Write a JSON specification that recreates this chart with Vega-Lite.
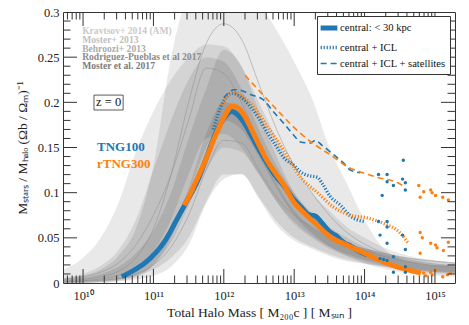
{
"$schema": "https://vega.github.io/schema/vega-lite/v6.json",
"width": 392, "height": 271,
"autosize": {"type": "none"},
"padding": {"left": 63, "top": 12, "right": 14, "bottom": 42},
"background": "white",
"config": {"view": {"stroke": "#333", "strokeWidth": 1}, "font": "Liberation Serif",
  "axis": {"grid": false, "ticks": false, "domain": false, "labelFont": "Liberation Serif", "labelFontSize": 12.5, "labelColor": "#222", "titleFont": "Liberation Serif", "titleFontSize": 13.5, "titleFontWeight": "normal", "titleColor": "#222", "labelOverlap": false, "labelBound": false, "labelFlush": false}},
"datasets": {
"xt": [{"t":6e9},{"t":7e9},{"t":8e9},{"t":9e9},{"t":1e10},{"t":2e10},{"t":3e10},{"t":4e10},{"t":5e10},{"t":6e10},{"t":7e10},{"t":8e10},{"t":9e10},{"t":1e11},{"t":2e11},{"t":3e11},{"t":4e11},{"t":5e11},{"t":6e11},{"t":7e11},{"t":8e11},{"t":9e11},{"t":1e12},{"t":2e12},{"t":3e12},{"t":4e12},{"t":5e12},{"t":6e12},{"t":7e12},{"t":8e12},{"t":9e12},{"t":1e13},{"t":2e13},{"t":3e13},{"t":4e13},{"t":5e13},{"t":6e13},{"t":7e13},{"t":8e13},{"t":9e13},{"t":1e14},{"t":2e14},{"t":3e14},{"t":4e14},{"t":5e14},{"t":6e14},{"t":7e14},{"t":8e14},{"t":9e14},{"t":1e15}],
"yt": [{"t":0.01},{"t":0.02},{"t":0.03},{"t":0.04},{"t":0.05},{"t":0.06},{"t":0.07},{"t":0.08},{"t":0.09},{"t":0.1},{"t":0.11},{"t":0.12},{"t":0.13},{"t":0.14},{"t":0.15},{"t":0.16},{"t":0.17},{"t":0.18},{"t":0.19},{"t":0.2},{"t":0.21},{"t":0.22},{"t":0.23},{"t":0.24},{"t":0.25},{"t":0.26},{"t":0.27},{"t":0.28},{"t":0.29}],
"bands": [
{"model":"K","m":5e9,"lo":0,"hi":0.005},{"model":"K","m":1e10,"lo":0,"hi":0.008},{"model":"K","m":1.78e10,"lo":0,"hi":0.015},{"model":"K","m":3.16e10,"lo":0.002,"hi":0.03},{"model":"K","m":5.62e10,"lo":0.006,"hi":0.06},{"model":"K","m":1e11,"lo":0.02,"hi":0.13},{"model":"K","m":1.78e11,"lo":0.05,"hi":0.25},{"model":"K","m":3.16e11,"lo":0.1,"hi":0.32},{"model":"K","m":5.62e11,"lo":0.15,"hi":0.34},{"model":"K","m":1e12,"lo":0.18,"hi":0.35},{"model":"K","m":1.78e12,"lo":0.17,"hi":0.34},{"model":"K","m":3.16e12,"lo":0.14,"hi":0.31},{"model":"K","m":5.62e12,"lo":0.105,"hi":0.28},{"model":"K","m":1e13,"lo":0.075,"hi":0.245},{"model":"K","m":1.78e13,"lo":0.055,"hi":0.205},{"model":"K","m":3.16e13,"lo":0.04,"hi":0.15},{"model":"K","m":5.62e13,"lo":0.03,"hi":0.11},{"model":"K","m":1e14,"lo":0.022,"hi":0.07},{"model":"K","m":1.78e14,"lo":0.016,"hi":0.04},{"model":"K","m":3.16e14,"lo":0.012,"hi":0.027},{"model":"K","m":5.62e14,"lo":0.01,"hi":0.022},{"model":"K","m":1e15,"lo":0.008,"hi":0.02},{"model":"K","m":2e15,"lo":0.007,"hi":0.02},
{"model":"M13","m":5e9,"lo":0,"hi":0.014},{"model":"M13","m":1e10,"lo":0,"hi":0.028},{"model":"M13","m":1.78e10,"lo":0.001,"hi":0.05},{"model":"M13","m":3.16e10,"lo":0.003,"hi":0.088},{"model":"M13","m":5.62e10,"lo":0.008,"hi":0.145},{"model":"M13","m":1e11,"lo":0.02,"hi":0.19},{"model":"M13","m":1.78e11,"lo":0.045,"hi":0.225},{"model":"M13","m":3.16e11,"lo":0.085,"hi":0.25},{"model":"M13","m":5.62e11,"lo":0.125,"hi":0.264},{"model":"M13","m":1e12,"lo":0.15,"hi":0.262},{"model":"M13","m":1.78e12,"lo":0.145,"hi":0.24},{"model":"M13","m":3.16e12,"lo":0.12,"hi":0.2},{"model":"M13","m":5.62e12,"lo":0.09,"hi":0.16},{"model":"M13","m":1e13,"lo":0.065,"hi":0.125},{"model":"M13","m":1.78e13,"lo":0.05,"hi":0.1},{"model":"M13","m":3.16e13,"lo":0.038,"hi":0.08},{"model":"M13","m":5.62e13,"lo":0.03,"hi":0.062},{"model":"M13","m":1e14,"lo":0.024,"hi":0.05},{"model":"M13","m":1.78e14,"lo":0.019,"hi":0.04},{"model":"M13","m":3.16e14,"lo":0.015,"hi":0.033},{"model":"M13","m":5.62e14,"lo":0.012,"hi":0.028},{"model":"M13","m":1e15,"lo":0.01,"hi":0.025},{"model":"M13","m":2e15,"lo":0.009,"hi":0.022},
{"model":"B13","m":5e9,"lo":0.001,"hi":0.006},{"model":"B13","m":1e10,"lo":0.002,"hi":0.01},{"model":"B13","m":1.78e10,"lo":0.004,"hi":0.019},{"model":"B13","m":3.16e10,"lo":0.008,"hi":0.036},{"model":"B13","m":5.62e10,"lo":0.017,"hi":0.07},{"model":"B13","m":1e11,"lo":0.035,"hi":0.125},{"model":"B13","m":1.78e11,"lo":0.07,"hi":0.18},{"model":"B13","m":3.16e11,"lo":0.12,"hi":0.225},{"model":"B13","m":5.62e11,"lo":0.16,"hi":0.25},{"model":"B13","m":1e12,"lo":0.165,"hi":0.245},{"model":"B13","m":1.78e12,"lo":0.15,"hi":0.215},{"model":"B13","m":3.16e12,"lo":0.12,"hi":0.17},{"model":"B13","m":5.62e12,"lo":0.09,"hi":0.13},{"model":"B13","m":1e13,"lo":0.068,"hi":0.1},{"model":"B13","m":1.78e13,"lo":0.052,"hi":0.078},{"model":"B13","m":3.16e13,"lo":0.04,"hi":0.062},{"model":"B13","m":5.62e13,"lo":0.032,"hi":0.05},{"model":"B13","m":1e14,"lo":0.026,"hi":0.04},{"model":"B13","m":1.78e14,"lo":0.022,"hi":0.033},{"model":"B13","m":3.16e14,"lo":0.018,"hi":0.028},{"model":"B13","m":5.62e14,"lo":0.015,"hi":0.024},{"model":"B13","m":1e15,"lo":0.013,"hi":0.021},{"model":"B13","m":2e15,"lo":0.012,"hi":0.019},
{"model":"RP","m":5e9,"lo":0,"hi":0.004},{"model":"RP","m":1e10,"lo":0.001,"hi":0.006},{"model":"RP","m":1.78e10,"lo":0.002,"hi":0.01},{"model":"RP","m":3.16e10,"lo":0.004,"hi":0.018},{"model":"RP","m":5.62e10,"lo":0.008,"hi":0.033},{"model":"RP","m":1e11,"lo":0.015,"hi":0.058},{"model":"RP","m":1.78e11,"lo":0.028,"hi":0.1},{"model":"RP","m":3.16e11,"lo":0.05,"hi":0.16},{"model":"RP","m":5.62e11,"lo":0.09,"hi":0.215},{"model":"RP","m":1e12,"lo":0.12,"hi":0.258},{"model":"RP","m":1.78e12,"lo":0.12,"hi":0.24},{"model":"RP","m":3.16e12,"lo":0.095,"hi":0.19},{"model":"RP","m":5.62e12,"lo":0.068,"hi":0.14},{"model":"RP","m":1e13,"lo":0.05,"hi":0.1},{"model":"RP","m":1.78e13,"lo":0.04,"hi":0.075},{"model":"RP","m":3.16e13,"lo":0.032,"hi":0.058},{"model":"RP","m":5.62e13,"lo":0.026,"hi":0.046},{"model":"RP","m":1e14,"lo":0.022,"hi":0.038},{"model":"RP","m":1.78e14,"lo":0.019,"hi":0.032},{"model":"RP","m":3.16e14,"lo":0.016,"hi":0.027},{"model":"RP","m":5.62e14,"lo":0.014,"hi":0.023},{"model":"RP","m":1e15,"lo":0.012,"hi":0.02},{"model":"RP","m":2e15,"lo":0.011,"hi":0.018},
{"model":"M17","m":5e9,"lo":0,"hi":0.002},{"model":"M17","m":1e10,"lo":0,"hi":0.003},{"model":"M17","m":1.78e10,"lo":0.001,"hi":0.005},{"model":"M17","m":3.16e10,"lo":0.002,"hi":0.009},{"model":"M17","m":5.62e10,"lo":0.004,"hi":0.017},{"model":"M17","m":1e11,"lo":0.008,"hi":0.032},{"model":"M17","m":1.78e11,"lo":0.018,"hi":0.06},{"model":"M17","m":3.16e11,"lo":0.042,"hi":0.105},{"model":"M17","m":5.62e11,"lo":0.088,"hi":0.165},{"model":"M17","m":1e12,"lo":0.115,"hi":0.2},{"model":"M17","m":1.78e12,"lo":0.121,"hi":0.19},{"model":"M17","m":3.16e12,"lo":0.093,"hi":0.15},{"model":"M17","m":5.62e12,"lo":0.064,"hi":0.11},{"model":"M17","m":1e13,"lo":0.047,"hi":0.08},{"model":"M17","m":1.78e13,"lo":0.038,"hi":0.062},{"model":"M17","m":3.16e13,"lo":0.03,"hi":0.05},{"model":"M17","m":5.62e13,"lo":0.024,"hi":0.043},{"model":"M17","m":1e14,"lo":0.021,"hi":0.038},{"model":"M17","m":1.78e14,"lo":0.018,"hi":0.034},{"model":"M17","m":3.16e14,"lo":0.015,"hi":0.03},{"model":"M17","m":5.62e14,"lo":0.013,"hi":0.027},{"model":"M17","m":1e15,"lo":0.012,"hi":0.025},{"model":"M17","m":2e15,"lo":0.011,"hi":0.023}
],
"thin": [
{"model":"Kc","m":5e9,"v":0.002},{"model":"Kc","m":1e10,"v":0.004},{"model":"Kc","m":1.78e10,"v":0.007},{"model":"Kc","m":3.16e10,"v":0.013},{"model":"Kc","m":5.62e10,"v":0.028},{"model":"Kc","m":1e11,"v":0.06},{"model":"Kc","m":1.78e11,"v":0.12},{"model":"Kc","m":3.16e11,"v":0.2},{"model":"Kc","m":5.62e11,"v":0.265},{"model":"Kc","m":1e12,"v":0.287},{"model":"Kc","m":1.78e12,"v":0.27},{"model":"Kc","m":3.16e12,"v":0.22},{"model":"Kc","m":5.62e12,"v":0.17},{"model":"Kc","m":1e13,"v":0.13},{"model":"Kc","m":1.78e13,"v":0.1},{"model":"Kc","m":3.16e13,"v":0.075},{"model":"Kc","m":5.62e13,"v":0.056},{"model":"Kc","m":1e14,"v":0.043},{"model":"Kc","m":1.78e14,"v":0.034},{"model":"Kc","m":3.16e14,"v":0.028},{"model":"Kc","m":5.62e14,"v":0.024},{"model":"Kc","m":1e15,"v":0.021},{"model":"Kc","m":2e15,"v":0.019},
{"model":"Bc","m":5e9,"v":0.004},{"model":"Bc","m":1e10,"v":0.007},{"model":"Bc","m":1.78e10,"v":0.012},{"model":"Bc","m":3.16e10,"v":0.022},{"model":"Bc","m":5.62e10,"v":0.042},{"model":"Bc","m":1e11,"v":0.075},{"model":"Bc","m":1.78e11,"v":0.12},{"model":"Bc","m":3.16e11,"v":0.18},{"model":"Bc","m":5.62e11,"v":0.238},{"model":"Bc","m":1e12,"v":0.232},{"model":"Bc","m":1.78e12,"v":0.2},{"model":"Bc","m":3.16e12,"v":0.158},{"model":"Bc","m":5.62e12,"v":0.12},{"model":"Bc","m":1e13,"v":0.09},{"model":"Bc","m":1.78e13,"v":0.07},{"model":"Bc","m":3.16e13,"v":0.055},{"model":"Bc","m":5.62e13,"v":0.044},{"model":"Bc","m":1e14,"v":0.036},{"model":"Bc","m":1.78e14,"v":0.03},{"model":"Bc","m":3.16e14,"v":0.025},{"model":"Bc","m":5.62e14,"v":0.022},{"model":"Bc","m":1e15,"v":0.019},{"model":"Bc","m":2e15,"v":0.017},
{"model":"Mc","m":5e9,"v":0.001},{"model":"Mc","m":1e10,"v":0.002},{"model":"Mc","m":1.78e10,"v":0.003},{"model":"Mc","m":3.16e10,"v":0.005},{"model":"Mc","m":5.62e10,"v":0.01},{"model":"Mc","m":1e11,"v":0.02},{"model":"Mc","m":1.78e11,"v":0.04},{"model":"Mc","m":3.16e11,"v":0.075},{"model":"Mc","m":5.62e11,"v":0.125},{"model":"Mc","m":1e12,"v":0.158},{"model":"Mc","m":1.78e12,"v":0.155},{"model":"Mc","m":3.16e12,"v":0.125},{"model":"Mc","m":5.62e12,"v":0.095},{"model":"Mc","m":1e13,"v":0.075},{"model":"Mc","m":1.78e13,"v":0.062},{"model":"Mc","m":3.16e13,"v":0.05},{"model":"Mc","m":5.62e13,"v":0.043},{"model":"Mc","m":1e14,"v":0.038},{"model":"Mc","m":1.78e14,"v":0.033},{"model":"Mc","m":3.16e14,"v":0.029},{"model":"Mc","m":5.62e14,"v":0.026},{"model":"Mc","m":1e15,"v":0.024},{"model":"Mc","m":2e15,"v":0.022}
],
"sim": [
{"sim":"TNG100","type":"central: < 30 kpc","m":3.55e10,"v":0.007},{"sim":"TNG100","type":"central: < 30 kpc","m":5.25e10,"v":0.014},{"sim":"TNG100","type":"central: < 30 kpc","m":8.91e10,"v":0.027},{"sim":"TNG100","type":"central: < 30 kpc","m":1.55e11,"v":0.05},{"sim":"TNG100","type":"central: < 30 kpc","m":2.14e11,"v":0.07},{"sim":"TNG100","type":"central: < 30 kpc","m":2.95e11,"v":0.09},{"sim":"TNG100","type":"central: < 30 kpc","m":4.17e11,"v":0.112},{"sim":"TNG100","type":"central: < 30 kpc","m":5.75e11,"v":0.14},{"sim":"TNG100","type":"central: < 30 kpc","m":7.59e11,"v":0.165},{"sim":"TNG100","type":"central: < 30 kpc","m":1e12,"v":0.182},{"sim":"TNG100","type":"central: < 30 kpc","m":1.29e12,"v":0.19},{"sim":"TNG100","type":"central: < 30 kpc","m":1.58e12,"v":0.186},{"sim":"TNG100","type":"central: < 30 kpc","m":2e12,"v":0.176},{"sim":"TNG100","type":"central: < 30 kpc","m":2.51e12,"v":0.162},{"sim":"TNG100","type":"central: < 30 kpc","m":3.16e12,"v":0.148},{"sim":"TNG100","type":"central: < 30 kpc","m":4.17e12,"v":0.132},{"sim":"TNG100","type":"central: < 30 kpc","m":5.62e12,"v":0.117},{"sim":"TNG100","type":"central: < 30 kpc","m":7.08e12,"v":0.108},{"sim":"TNG100","type":"central: < 30 kpc","m":1e13,"v":0.092},{"sim":"TNG100","type":"central: < 30 kpc","m":1.26e13,"v":0.084},{"sim":"TNG100","type":"central: < 30 kpc","m":1.58e13,"v":0.076},{"sim":"TNG100","type":"central: < 30 kpc","m":2e13,"v":0.074},{"sim":"TNG100","type":"central: < 30 kpc","m":2.51e13,"v":0.066},{"sim":"TNG100","type":"central: < 30 kpc","m":3.16e13,"v":0.057},{"sim":"TNG100","type":"central: < 30 kpc","m":3.98e13,"v":0.052},{"sim":"TNG100","type":"central: < 30 kpc","m":5.01e13,"v":0.045},{"sim":"TNG100","type":"central: < 30 kpc","m":6.31e13,"v":0.041},{"sim":"TNG100","type":"central: < 30 kpc","m":7.94e13,"v":0.036},{"sim":"TNG100","type":"central: < 30 kpc","m":1.1e14,"v":0.031},
{"sim":"TNG100","type":"central + ICL","m":7.08e11,"v":0.17},{"sim":"TNG100","type":"central + ICL","m":9.55e11,"v":0.199},{"sim":"TNG100","type":"central + ICL","m":1.32e12,"v":0.21},{"sim":"TNG100","type":"central + ICL","m":1.58e12,"v":0.208},{"sim":"TNG100","type":"central + ICL","m":2.4e12,"v":0.195},{"sim":"TNG100","type":"central + ICL","m":3.16e12,"v":0.182},{"sim":"TNG100","type":"central + ICL","m":4.17e12,"v":0.166},{"sim":"TNG100","type":"central + ICL","m":5.62e12,"v":0.151},{"sim":"TNG100","type":"central + ICL","m":7.08e12,"v":0.139},{"sim":"TNG100","type":"central + ICL","m":1e13,"v":0.13},{"sim":"TNG100","type":"central + ICL","m":1.23e13,"v":0.123},{"sim":"TNG100","type":"central + ICL","m":1.58e13,"v":0.119},{"sim":"TNG100","type":"central + ICL","m":2.14e13,"v":0.117},{"sim":"TNG100","type":"central + ICL","m":2.51e13,"v":0.11},{"sim":"TNG100","type":"central + ICL","m":3.24e13,"v":0.096},{"sim":"TNG100","type":"central + ICL","m":4.57e13,"v":0.086},{"sim":"TNG100","type":"central + ICL","m":6.31e13,"v":0.074},{"sim":"TNG100","type":"central + ICL","m":1e14,"v":0.068},
{"sim":"TNG100","type":"central + ICL + satellites","m":1e12,"v":0.205},{"sim":"TNG100","type":"central + ICL + satellites","m":1.41e12,"v":0.214},{"sim":"TNG100","type":"central + ICL + satellites","m":1.78e12,"v":0.213},{"sim":"TNG100","type":"central + ICL + satellites","m":2.51e12,"v":0.208},{"sim":"TNG100","type":"central + ICL + satellites","m":3.63e12,"v":0.203},{"sim":"TNG100","type":"central + ICL + satellites","m":5.01e12,"v":0.19},{"sim":"TNG100","type":"central + ICL + satellites","m":7.08e12,"v":0.177},{"sim":"TNG100","type":"central + ICL + satellites","m":1e13,"v":0.163},{"sim":"TNG100","type":"central + ICL + satellites","m":1.23e13,"v":0.156},{"sim":"TNG100","type":"central + ICL + satellites","m":1.7e13,"v":0.155},{"sim":"TNG100","type":"central + ICL + satellites","m":2e13,"v":0.158},{"sim":"TNG100","type":"central + ICL + satellites","m":2.51e13,"v":0.152},{"sim":"TNG100","type":"central + ICL + satellites","m":2.95e13,"v":0.148},{"sim":"TNG100","type":"central + ICL + satellites","m":3.63e13,"v":0.142},{"sim":"TNG100","type":"central + ICL + satellites","m":5.01e13,"v":0.133},{"sim":"TNG100","type":"central + ICL + satellites","m":6.31e13,"v":0.125},{"sim":"TNG100","type":"central + ICL + satellites","m":8.71e13,"v":0.122},
{"sim":"rTNG300","type":"central: < 30 kpc","m":2.75e11,"v":0.086},{"sim":"rTNG300","type":"central: < 30 kpc","m":3.16e11,"v":0.095},{"sim":"rTNG300","type":"central: < 30 kpc","m":4.17e11,"v":0.115},{"sim":"rTNG300","type":"central: < 30 kpc","m":5.62e11,"v":0.138},{"sim":"rTNG300","type":"central: < 30 kpc","m":7.59e11,"v":0.163},{"sim":"rTNG300","type":"central: < 30 kpc","m":1e12,"v":0.183},{"sim":"rTNG300","type":"central: < 30 kpc","m":1.32e12,"v":0.196},{"sim":"rTNG300","type":"central: < 30 kpc","m":1.58e12,"v":0.194},{"sim":"rTNG300","type":"central: < 30 kpc","m":2e12,"v":0.184},{"sim":"rTNG300","type":"central: < 30 kpc","m":2.51e12,"v":0.169},{"sim":"rTNG300","type":"central: < 30 kpc","m":3.16e12,"v":0.153},{"sim":"rTNG300","type":"central: < 30 kpc","m":4.17e12,"v":0.135},{"sim":"rTNG300","type":"central: < 30 kpc","m":5.62e12,"v":0.12},{"sim":"rTNG300","type":"central: < 30 kpc","m":7.08e12,"v":0.109},{"sim":"rTNG300","type":"central: < 30 kpc","m":1e13,"v":0.089},{"sim":"rTNG300","type":"central: < 30 kpc","m":1.41e13,"v":0.077},{"sim":"rTNG300","type":"central: < 30 kpc","m":2e13,"v":0.066},{"sim":"rTNG300","type":"central: < 30 kpc","m":3.16e13,"v":0.052},{"sim":"rTNG300","type":"central: < 30 kpc","m":5.62e13,"v":0.042},{"sim":"rTNG300","type":"central: < 30 kpc","m":1e14,"v":0.033},{"sim":"rTNG300","type":"central: < 30 kpc","m":1.78e14,"v":0.024},{"sim":"rTNG300","type":"central: < 30 kpc","m":3.16e14,"v":0.017},{"sim":"rTNG300","type":"central: < 30 kpc","m":5.62e14,"v":0.012},{"sim":"rTNG300","type":"central: < 30 kpc","m":6.31e14,"v":0.011},
{"sim":"rTNG300","type":"central + ICL","m":9.55e11,"v":0.197},{"sim":"rTNG300","type":"central + ICL","m":1.15e12,"v":0.207},{"sim":"rTNG300","type":"central + ICL","m":1.35e12,"v":0.211},{"sim":"rTNG300","type":"central + ICL","m":1.78e12,"v":0.207},{"sim":"rTNG300","type":"central + ICL","m":2.4e12,"v":0.199},{"sim":"rTNG300","type":"central + ICL","m":3.16e12,"v":0.187},{"sim":"rTNG300","type":"central + ICL","m":4.17e12,"v":0.173},{"sim":"rTNG300","type":"central + ICL","m":7.08e12,"v":0.147},{"sim":"rTNG300","type":"central + ICL","m":1.23e13,"v":0.117},{"sim":"rTNG300","type":"central + ICL","m":2.14e13,"v":0.1},{"sim":"rTNG300","type":"central + ICL","m":3.63e13,"v":0.084},{"sim":"rTNG300","type":"central + ICL","m":6.31e13,"v":0.075},{"sim":"rTNG300","type":"central + ICL","m":1.1e14,"v":0.072},{"sim":"rTNG300","type":"central + ICL","m":1.86e14,"v":0.066},{"sim":"rTNG300","type":"central + ICL","m":3.24e14,"v":0.055},{"sim":"rTNG300","type":"central + ICL","m":4.17e14,"v":0.044},
{"sim":"rTNG300","type":"central + ICL + satellites","m":2e12,"v":0.23},{"sim":"rTNG300","type":"central + ICL + satellites","m":3.63e12,"v":0.208},{"sim":"rTNG300","type":"central + ICL + satellites","m":6.31e12,"v":0.188},{"sim":"rTNG300","type":"central + ICL + satellites","m":1.1e13,"v":0.169},{"sim":"rTNG300","type":"central + ICL + satellites","m":1.82e13,"v":0.155},{"sim":"rTNG300","type":"central + ICL + satellites","m":3.24e13,"v":0.142},{"sim":"rTNG300","type":"central + ICL + satellites","m":6.31e13,"v":0.127},{"sim":"rTNG300","type":"central + ICL + satellites","m":9.55e13,"v":0.122},{"sim":"rTNG300","type":"central + ICL + satellites","m":1.51e14,"v":0.117},{"sim":"rTNG300","type":"central + ICL + satellites","m":2.95e14,"v":0.111},{"sim":"rTNG300","type":"central + ICL + satellites","m":3.47e14,"v":0.108}
],
"pts": [
{"sim":"TNG100","m":3.55e14,"v":0.136},{"sim":"TNG100","m":1.58e14,"v":0.12},{"sim":"TNG100","m":2.09e14,"v":0.12},{"sim":"TNG100","m":2.09e14,"v":0.112},{"sim":"TNG100","m":1.78e14,"v":0.097},{"sim":"TNG100","m":2.57e14,"v":0.108},{"sim":"TNG100","m":3.47e14,"v":0.115},{"sim":"TNG100","m":3.8e14,"v":0.111},{"sim":"TNG100","m":3.8e14,"v":0.103},{"sim":"TNG100","m":1.58e14,"v":0.068},{"sim":"TNG100","m":2.09e14,"v":0.068},{"sim":"TNG100","m":2.09e14,"v":0.062},{"sim":"TNG100","m":1.66e14,"v":0.053},{"sim":"TNG100","m":2.09e14,"v":0.044},{"sim":"TNG100","m":3.47e14,"v":0.053},{"sim":"TNG100","m":3.8e14,"v":0.037},{"sim":"TNG100","m":2.57e14,"v":0.029},{"sim":"TNG100","m":1.66e14,"v":0.027},{"sim":"TNG100","m":1.86e14,"v":0.026},{"sim":"TNG100","m":2.09e14,"v":0.025},{"sim":"TNG100","m":2.57e14,"v":0.012},{"sim":"TNG100","m":3.8e14,"v":0.012},{"sim":"TNG100","m":3.8e14,"v":0.018},
{"sim":"rTNG300","m":5.89e14,"v":0.108},{"sim":"rTNG300","m":6.92e14,"v":0.101},{"sim":"rTNG300","m":6.17e14,"v":0.095},{"sim":"rTNG300","m":8.71e14,"v":0.103},{"sim":"rTNG300","m":9.12e14,"v":0.1},{"sim":"rTNG300","m":1.02e15,"v":0.097},{"sim":"rTNG300","m":1.29e15,"v":0.095},{"sim":"rTNG300","m":1.55e15,"v":0.092},{"sim":"rTNG300","m":6.17e14,"v":0.056},{"sim":"rTNG300","m":6.61e14,"v":0.05},{"sim":"rTNG300","m":6.17e14,"v":0.033},{"sim":"rTNG300","m":8.71e14,"v":0.044},{"sim":"rTNG300","m":1.02e15,"v":0.042},{"sim":"rTNG300","m":1.07e15,"v":0.039},{"sim":"rTNG300","m":1.55e15,"v":0.045},{"sim":"rTNG300","m":1.32e15,"v":0.036},{"sim":"rTNG300","m":5.89e14,"v":0.012},{"sim":"rTNG300","m":6.92e14,"v":0.011},{"sim":"rTNG300","m":8.71e14,"v":0.012},{"sim":"rTNG300","m":1.02e15,"v":0.014},{"sim":"rTNG300","m":9.12e14,"v":0.009},{"sim":"rTNG300","m":1.29e15,"v":0.007},{"sim":"rTNG300","m":1.51e15,"v":0.009},{"sim":"rTNG300","m":1.66e15,"v":0.011},{"sim":"rTNG300","m":7.41e14,"v":0.008}
],
"lit": [
{"label":"Kravtsov+ 2014 (AM)","m":9.7e9,"v":0.2795},
{"label":"Moster+ 2013","m":9.7e9,"v":0.2695},
{"label":"Behroozi+ 2013","m":9.7e9,"v":0.2595},
{"label":"Rodriguez-Pueblas et al 2017","m":9.7e9,"v":0.2497},
{"label":"Moster et al. 2017","m":9.7e9,"v":0.2397}
],
"tng": [
{"sim":"TNG100","m":1.58e10,"v":0.1505},
{"sim":"rTNG300","m":1.58e10,"v":0.132}
],
"zbox": [
{"label":"z = 0","m":1.43e10,"m2":3.71e10,"v":0.1915,"v2":0.208,"mc":2.31e10,"vc":0.2}
]
},
"layer": [
{"data": {"name": "bands"},
 "mark": {"type": "area", "clip": true, "interpolate": "monotone", "fill": "#000000"},
 "encoding": {
  "x": {"field": "m", "type": "quantitative", "scale": {"type": "log", "domain": [5.188e9, 1.928e15], "nice": false},
   "axis": {"orient": "bottom", "title": "Total Halo Mass [ M₂₀₀c ] [ Mₛᵤₙ ]", "titlePadding": 4,
    "values": [1e10,1e11,1e12,1e13,1e14,1e15],
    "labelExpr": "['10¹⁰','10¹¹','10¹²','10¹³','10¹⁴','10¹⁵'][round(log(datum.value)/LN10) - 10]",
    "labelFont": "Liberation Serif", "labelPadding": 6}},
  "y": {"field": "hi", "type": "quantitative", "stack": null, "scale": {"domain": [0, 0.3], "nice": false, "zero": false},
   "axis": {"orient": "left", "title": "Mₛₜₐᵣₛ / Mₕₐₗₒ (Ωb / Ωₘ)⁻¹", "titlePadding": 8, "format": "~g",
    "values": [0,0.05,0.1,0.15,0.2,0.25,0.3],
    "labelFont": "Liberation Serif", "labelPadding": 4}},
  "y2": {"field": "lo"},
  "detail": {"field": "model"},
  "fillOpacity": {"field": "model", "type": "nominal", "scale": {"domain": ["K","M13","B13","RP","M17"], "range": [0.085,0.095,0.095,0.13,0.18]}, "legend": null}
 }},
{"data": {"name": "thin"},
 "mark": {"type": "line", "clip": true, "interpolate": "monotone", "stroke": "#8c8c8c", "strokeWidth": 0.7, "opacity": 0.7},
 "encoding": {
  "x": {"field": "m", "type": "quantitative", "axis": null},
  "y": {"field": "v", "type": "quantitative", "axis": null},
  "detail": {"field": "model"}
 }},
{"data": {"name": "sim"},
 "mark": {"type": "line", "clip": true, "interpolate": "monotone"},
 "encoding": {
  "x": {"field": "m", "type": "quantitative", "axis": null},
  "y": {"field": "v", "type": "quantitative", "axis": null},
  "color": {"field": "sim", "type": "nominal", "scale": {"domain": ["TNG100","rTNG300"], "range": ["#1f77b4","#ff7f0e"]}, "legend": null},
  "strokeDash": {"field": "type", "type": "nominal", "scale": {"domain": ["central: < 30 kpc","central + ICL","central + ICL + satellites"], "range": [[1,0],[1.2,1.8],[6,4]]},
   "legend": {"title": null, "orient": "none", "legendX": 254, "legendY": 4, "symbolStrokeColor": "#1f77b4", "symbolType": "M-1.6,0H1.6", "symbolSize": 110, "labelFont": "Liberation Serif", "labelFontSize": 10.6, "labelColor": "#111", "strokeColor": "#333", "fillColor": "white", "padding": 4, "rowPadding": 2.5, "labelOffset": 3, "cornerRadius": 0}},
  "strokeWidth": {"field": "type", "type": "nominal", "scale": {"domain": ["central: < 30 kpc","central + ICL","central + ICL + satellites"], "range": [5, 1.6, 2.2]},
   "legend": {"title": null, "orient": "none", "legendX": 254, "legendY": 4, "symbolStrokeColor": "#1f77b4", "symbolType": "M-1.6,0H1.6", "symbolSize": 110, "labelFont": "Liberation Serif", "labelFontSize": 10.6, "labelColor": "#111", "strokeColor": "#333", "fillColor": "white", "padding": 4, "rowPadding": 2.5, "labelOffset": 3, "cornerRadius": 0}}
 }},
{"data": {"name": "pts"},
 "mark": {"type": "point", "filled": true, "size": 12, "opacity": 1, "clip": true},
 "encoding": {
  "x": {"field": "m", "type": "quantitative", "axis": null},
  "y": {"field": "v", "type": "quantitative", "axis": null},
  "color": {"field": "sim", "type": "nominal", "legend": null}
 }},
{"data": {"name": "xt"},
 "mark": {"type": "tick", "orient": "vertical", "clip": true, "thickness": 1, "color": "#333", "opacity": 1},
 "encoding": {
  "x": {"field": "t", "type": "quantitative", "axis": null},
  "y": {"datum": 0, "type": "quantitative", "axis": null},
  "size": {"condition": {"test": "abs(log(datum.t)/LN10 - round(log(datum.t)/LN10)) < 0.001", "value": 28}, "value": 15}
 }},
{"data": {"name": "xt"},
 "mark": {"type": "tick", "orient": "vertical", "clip": true, "thickness": 1, "color": "#333", "opacity": 1},
 "encoding": {
  "x": {"field": "t", "type": "quantitative", "axis": null},
  "y": {"datum": 0.3, "type": "quantitative", "axis": null},
  "size": {"condition": {"test": "abs(log(datum.t)/LN10 - round(log(datum.t)/LN10)) < 0.001", "value": 28}, "value": 15}
 }},
{"data": {"name": "yt"},
 "mark": {"type": "tick", "orient": "horizontal", "clip": true, "thickness": 1, "color": "#333", "opacity": 1},
 "encoding": {
  "y": {"field": "t", "type": "quantitative", "axis": null},
  "x": {"datum": 5.188e9, "type": "quantitative", "axis": null},
  "size": {"condition": {"test": "abs(datum.t*20 - round(datum.t*20)) < 0.001", "value": 28}, "value": 15}
 }},
{"data": {"name": "yt"},
 "mark": {"type": "tick", "orient": "horizontal", "clip": true, "thickness": 1, "color": "#333", "opacity": 1},
 "encoding": {
  "y": {"field": "t", "type": "quantitative", "axis": null},
  "x": {"datum": 1.928e15, "type": "quantitative", "axis": null},
  "size": {"condition": {"test": "abs(datum.t*20 - round(datum.t*20)) < 0.001", "value": 28}, "value": 15}
 }},
{"data": {"name": "lit"},
 "mark": {"type": "text", "align": "left", "baseline": "middle", "font": "Liberation Serif", "fontSize": 9.6, "fontWeight": "bold"},
 "encoding": {
  "x": {"field": "m", "type": "quantitative", "axis": null},
  "y": {"field": "v", "type": "quantitative", "axis": null},
  "text": {"field": "label"},
  "fill": {"field": "label", "type": "nominal", "scale": {"domain": ["Kravtsov+ 2014 (AM)","Moster+ 2013","Behroozi+ 2013","Rodriguez-Pueblas et al 2017","Moster et al. 2017"], "range": ["#cacaca","#bfbfbf","#adadad","#8c8c8c","#7c7c7c"]}, "legend": null}
 }},
{"data": {"name": "tng"},
 "mark": {"type": "text", "align": "left", "baseline": "middle", "font": "Liberation Serif", "fontSize": 13, "fontWeight": "bold"},
 "encoding": {
  "x": {"field": "m", "type": "quantitative", "axis": null},
  "y": {"field": "v", "type": "quantitative", "axis": null},
  "text": {"field": "sim"},
  "color": {"field": "sim", "type": "nominal", "legend": null}
 }},
{"data": {"name": "zbox"},
 "mark": {"type": "rect", "fill": "white", "stroke": "#333", "strokeWidth": 0.8},
 "encoding": {
  "x": {"field": "m", "type": "quantitative", "axis": null},
  "x2": {"field": "m2"},
  "y": {"field": "v", "type": "quantitative", "axis": null},
  "y2": {"field": "v2"}
 }},
{"data": {"name": "zbox"},
 "mark": {"type": "text", "align": "center", "baseline": "middle", "font": "Liberation Serif", "fontSize": 12.5, "color": "#111"},
 "encoding": {
  "x": {"field": "mc", "type": "quantitative", "axis": null},
  "y": {"field": "vc", "type": "quantitative", "axis": null},
  "text": {"field": "label"}
 }}
],
"resolve": {"axis": {"x": "independent", "y": "independent"}}
}
